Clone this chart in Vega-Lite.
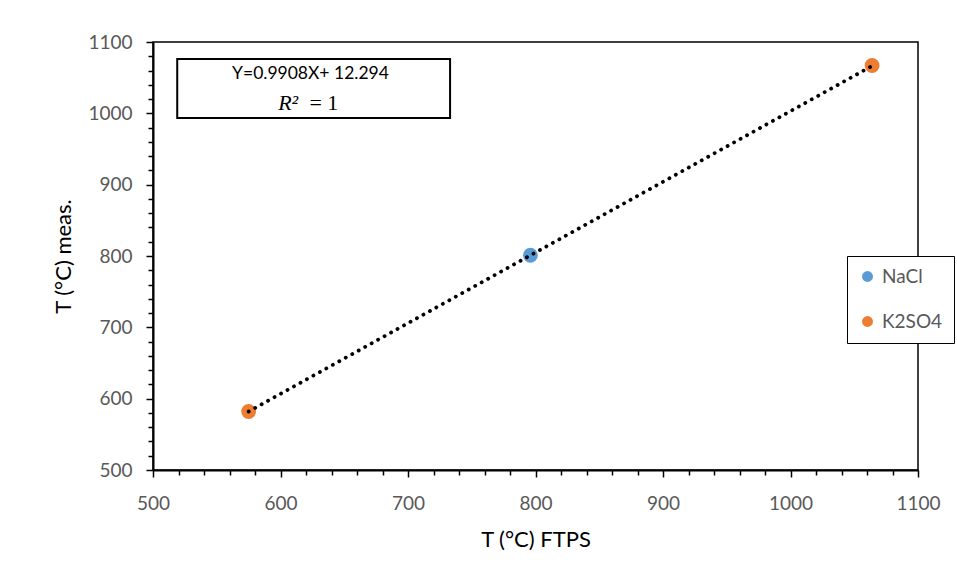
{
  "$schema": "https://vega.github.io/schema/vega-lite/v6.json",
  "autosize": {"type": "none"},
  "width": 765,
  "height": 428,
  "padding": {"left": 153, "top": 42, "right": 39, "bottom": 111},
  "background": "white",
  "config": {
    "view": {"stroke": "black", "strokeWidth": 1.5},
    "font": "Lato"
  },
  "datasets": {
    "points": [
      {"series": "K2SO4", "ftps": 575, "meas": 582},
      {"series": "NaCl", "ftps": 796, "meas": 801},
      {"series": "K2SO4", "ftps": 1064, "meas": 1067}
    ],
    "trend": [
      {"ftps": 575, "meas": 582.0},
      {"ftps": 1064, "meas": 1066.5}
    ],
    "box": [{"ftps": 519, "ftps2": 733, "meas": 993.5, "meas2": 1076}],
    "eq": [{"ftps": 623.5, "meas": 1055, "txt": "Y=0.9908X+ 12.294"}],
    "r2a": [{"ftps": 606, "meas": 1014.5, "txt": "R²"}],
    "r2b": [{"ftps": 634, "meas": 1014.5, "txt": "= 1"}]
  },
  "encoding": {
    "x": {
      "field": "ftps", "type": "quantitative",
      "scale": {"domain": [500, 1100], "nice": false, "zero": false},
      "axis": {
        "title": "T (°C) FTPS",
        "format": "d",
        "values": [500,520,540,560,580,600,620,640,660,680,700,720,740,760,780,800,820,840,860,880,900,920,940,960,980,1000,1020,1040,1060,1080,1100],
        "labelExpr": "datum.value % 100 === 0 ? datum.label : ''",
        "grid": false,
        "domainColor": "black", "domainWidth": 2,
        "tickColor": "black", "tickWidth": 1.5,
        "tickSize": {"condition": {"test": "datum.value % 100 === 0", "value": 7}, "value": 5},
        "labelColor": "#595959", "labelFontSize": 19, "labelFont": "Lato",
        "labelPadding": 17, "labelOverlap": false, "labelFlush": false,
        "titleColor": "black", "titleFontSize": 22, "titleFontWeight": "normal", "titleFont": "Lato",
        "titlePadding": 16
      }
    },
    "y": {
      "field": "meas", "type": "quantitative",
      "scale": {"domain": [500, 1100], "nice": false, "zero": false},
      "axis": {
        "title": "T (°C) meas.",
        "format": "d",
        "values": [500,520,540,560,580,600,620,640,660,680,700,720,740,760,780,800,820,840,860,880,900,920,940,960,980,1000,1020,1040,1060,1080,1100],
        "labelExpr": "datum.value % 100 === 0 ? datum.label : ''",
        "grid": false,
        "domainColor": "black", "domainWidth": 2,
        "tickColor": "black", "tickWidth": 1.5,
        "tickSize": {"condition": {"test": "datum.value % 100 === 0", "value": 7}, "value": 5},
        "labelColor": "#595959", "labelFontSize": 19, "labelFont": "Lato",
        "labelPadding": 14, "labelOverlap": false, "labelFlush": false,
        "titleColor": "black", "titleFontSize": 22, "titleFontWeight": "normal", "titleFont": "Lato",
        "titlePadding": 12
      }
    }
  },
  "layer": [
    {
      "data": {"name": "box"},
      "mark": {"type": "rect", "fill": "white", "stroke": "black", "strokeWidth": 2},
      "encoding": {"x2": {"field": "ftps2"}, "y2": {"field": "meas2"}}
    },
    {
      "data": {"name": "eq"},
      "mark": {"type": "text", "font": "Lato", "fontSize": 17.5, "color": "black", "align": "center", "baseline": "middle"},
      "encoding": {"text": {"field": "txt"}}
    },
    {
      "data": {"name": "r2a"},
      "mark": {"type": "text", "font": "Liberation Serif", "fontStyle": "italic", "fontSize": 22, "color": "black", "align": "center", "baseline": "middle"},
      "encoding": {"text": {"field": "txt"}}
    },
    {
      "data": {"name": "r2b"},
      "mark": {"type": "text", "font": "Liberation Serif", "fontSize": 22, "color": "black", "align": "center", "baseline": "middle"},
      "encoding": {"text": {"field": "txt"}}
    },
    {
      "data": {"name": "points"},
      "mark": {"type": "point", "shape": "circle", "filled": true, "size": 220, "opacity": 1},
      "encoding": {
        "color": {
          "field": "series", "type": "nominal",
          "scale": {"domain": ["NaCl", "K2SO4"], "range": ["#5B9BD5", "#ED7D31"]},
          "legend": {
            "title": null,
            "orient": "none",
            "legendX": 694,
            "legendY": 214,
            "strokeColor": "black",
            "fillColor": "white",
            "padding": 11,
            "symbolType": "circle",
            "symbolSize": 120,
            "symbolStrokeWidth": 0,
            "labelFontSize": 19,
            "labelFont": "Lato",
            "labelColor": "#595959",
            "labelOffset": 5,
            "rowPadding": 25
          }
        }
      }
    },
    {
      "data": {"name": "trend"},
      "mark": {"type": "line", "color": "black", "strokeWidth": 3.8, "strokeDash": [0.1, 7.3], "strokeCap": "round"},
      "encoding": {}
    }
  ]
}
